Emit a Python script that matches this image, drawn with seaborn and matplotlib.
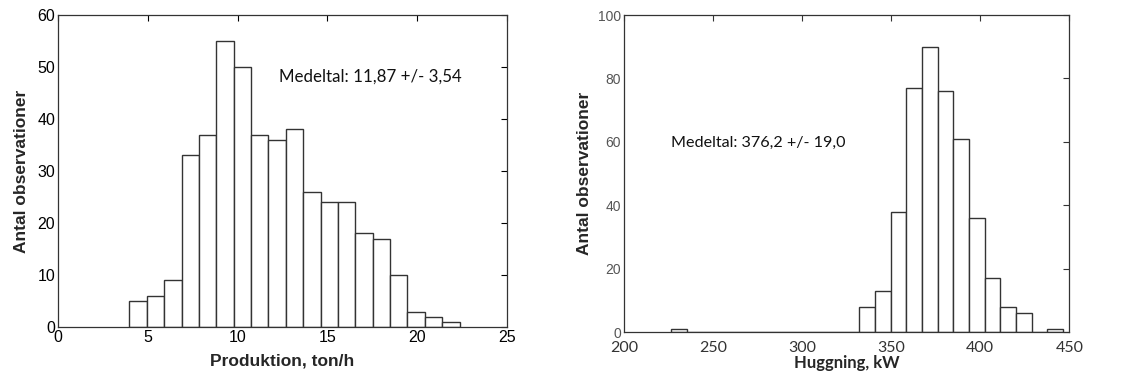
import numpy as np
import pandas as pd
import matplotlib
matplotlib.use("Agg")
import matplotlib.pyplot as plt
import seaborn as sns

# ---- data ----
prod_counts = [5, 6, 9, 33, 37, 55, 50, 37, 36, 38, 26, 24, 24, 18, 17, 10, 3, 2, 1]
prod_range = (3.98, 22.36)
prod_note = "Medeltal: 11,87 +/- 3,54"

hugg_counts = [1, 0, 0, 0, 0, 0, 0, 0, 0, 0, 0, 0,
               8, 13, 38, 77, 90, 76, 61, 36, 17, 8, 6, 0, 1]
hugg_range = (226.7, 446.4)
hugg_note = "Medeltal: 376,2 +/- 19,0"

prod_xticks = [0, 5, 10, 15, 20, 25]
prod_yticks = [0, 10, 20, 30, 40, 50, 60]
hugg_xticks = [200, 250, 300, 350, 400, 450]
hugg_yticks = [0, 20, 40, 60, 80, 100]

sns.set_theme(style="white")
plt.rcParams['font.family'] = ['Liberation Sans', 'DejaVu Sans']

fig = plt.figure(figsize=(11.28, 3.76), dpi=100)
ax1 = fig.add_axes([0.0514, 0.130, 0.398, 0.830])
ax2 = fig.add_axes([0.553, 0.117, 0.395, 0.843])


def draw(ax, counts, rng):
    n = len(counts)
    edges = np.linspace(rng[0], rng[1], n + 1)
    centers = (edges[:-1] + edges[1:]) / 2
    df = pd.DataFrame({"x": centers, "w": counts})
    sns.histplot(data=df, x="x", weights="w", bins=list(edges), ax=ax,
                 color="white", edgecolor="#333333", linewidth=1.0,
                 alpha=1.0, stat="count")


draw(ax1, prod_counts, prod_range)
draw(ax2, hugg_counts, hugg_range)

# left axes
ax1.set_xlim(0, 25)
ax1.set_ylim(0, 60)
ax1.set_xticks(prod_xticks)
ax1.set_yticks(prod_yticks)
ax1.tick_params(direction="in", top=True, right=True, length=4, width=0.8,
                labelsize=11.5, colors="black", pad=2)
ax1.set_xlabel("Produktion, ton/h", fontsize=12.5, fontweight="bold", labelpad=6)
ax1.set_ylabel("Antal observationer", fontsize=12.5, fontweight="bold", labelpad=6)
ax1.text(12.3, 48.1, prod_note, fontsize=12.2, family=["Lato", "DejaVu Sans"],
         va="center", ha="left", color="#111111")
for s in ax1.spines.values():
    s.set_color("#333333")
    s.set_linewidth(0.9)

# right axes
ax2.set_xlim(200, 450)
ax2.set_ylim(0, 100)
ax2.set_xticks(hugg_xticks)
ax2.set_yticks(hugg_yticks)
ax2.tick_params(direction="in", top=True, right=True, length=4, width=0.8,
                colors="#333333")
ax2.tick_params(axis="y", labelsize=10, labelcolor="#555555", pad=2)
ax2.tick_params(axis="x", labelsize=11.5, labelcolor="#333333", pad=6.5)
for lab in ax2.get_xticklabels():
    lab.set_family(["Lato", "DejaVu Sans"])
ax2.set_xlabel("Huggning, kW", fontsize=12, fontweight="bold",
               family=["Lato", "DejaVu Sans"], labelpad=0)
ax2.set_ylabel("Antal observationer", fontsize=12.5, fontweight="bold", labelpad=4)
ax2.text(226.7, 59.7, hugg_note, fontsize=11.6, family=["Lato", "DejaVu Sans"],
         va="center", ha="left", color="#111111")
for s in ax2.spines.values():
    s.set_color("#333333")
    s.set_linewidth(0.9)

fig.savefig("out.png", dpi=100)
